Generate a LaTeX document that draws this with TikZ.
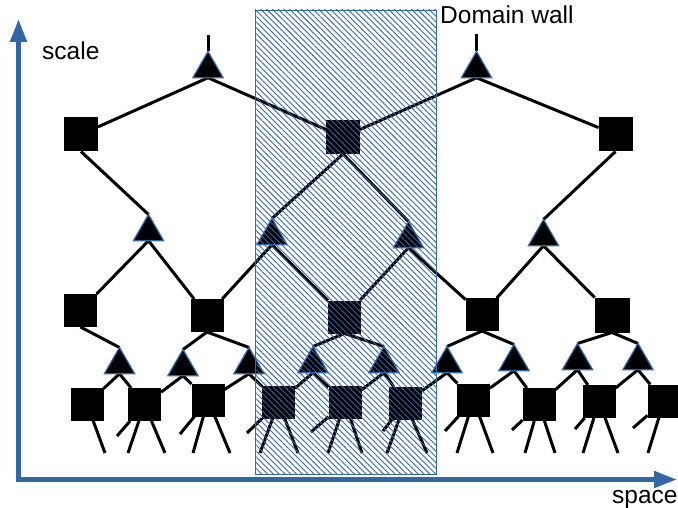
\documentclass[tikz,border=0pt]{standalone}
\usepackage{fontspec}
\setmainfont{Liberation Sans}
\usetikzlibrary{shapes.geometric,arrows.meta,patterns.meta,backgrounds}
\definecolor{axisblue}{HTML}{3465A4}
\begin{document}
\begin{tikzpicture}[x=1pt,y=-1pt,
  sq/.style={fill=black,minimum size=33pt,inner sep=0pt,outer sep=0pt},
  tri/.style={regular polygon,regular polygon sides=3,fill=black,draw=axisblue,line width=1.2pt,minimum size=35pt,inner sep=0pt,outer sep=0pt},
  wire/.style={line width=3pt,black},
  lbl/.style={font=\fontsize{24.5}{29}\selectfont,inner sep=0pt,anchor=base west},
  axis/.style={axisblue,line width=5pt,{Triangle[length=23pt,width=16pt]}-{Triangle[length=23pt,width=16pt]}},
  wall/.style={draw=axisblue,line width=0.8pt,pattern={Lines[angle=-45,distance=4.1pt,line width=0.9pt]},pattern color=axisblue}]
\useasboundingbox (0,0) rectangle (678,508);
% top level
\coordinate (s1) at (208,35);
\coordinate (s2) at (476.5,34);
\node[tri] (T1) at (208,69) {};
\node[tri] (T2) at (476.5,69) {};
\node[sq,minimum size=34pt] (A1) at (81,134.5) {};
\node[sq,minimum size=34pt] (A2) at (343,137) {};
\node[sq,minimum size=34pt] (A3) at (615.5,134.5) {};
% second level
\node[tri] (M1) at (148.5,232) {};
\node[tri] (M2) at (272,236) {};
\node[tri] (M3) at (408.5,239) {};
\node[tri] (M4) at (543.5,237) {};
\node[sq] (C1) at (80.5,310.5) {};
\node[sq] (C2) at (207,315.5) {};
\node[sq] (C3) at (344.5,317) {};
\node[sq] (C4) at (482,314.5) {};
\node[sq,minimum size=35pt] (C5) at (612,315) {};
% third level
\foreach \n/\x/\y in {1/119.5/365,2/183/367,3/249/365,4/313/364,5/384/364,6/447/364,7/514/362,8/577.5/361,9/638/361}
  \node[tri] (U\n) at (\x,\y) {};
\foreach \n/\x/\y in {1/87/404,2/144.5/404.5,3/208/400,4/278.5/402.5,5/345/402.5,6/405/403,7/473.5/400,8/539/404.5,9/599/401.5,10/664/401}
  \node[sq] (B\n) at (\x,\y) {};
\foreach \n/\x/\y in {1/117/436,2/180/434,3/247/433,4/311/432,5/383/431,6/445/431,7/512/430,8/575/429,9/633/428}
  \coordinate (V\n) at (\x,\y);
% leg ends
\foreach \n/\x in {a/105,b/128,c/165,d/193,e/230,f/260,g/298,h/328,i/362,j/387,k/427,l/457,m/493,n/525,o/555,p/583,q/618,r/648}
  \coordinate (L\n) at (\x,453);
\begin{pgfonlayer}{background}
  \draw[wire] (T1.north) -- (s1);
  \draw[wire] (T2.north) -- (s2);
  \draw[wire] (A1) -- (T1.south) -- (A2);
  \draw[wire] (A2) -- (T2.south) -- (A3);
  \draw[wire] (A1.south) -- (M1.north);
  \draw[wire] (M2.north) -- (A2.south) -- (M3.north);
  \draw[wire] (A3.south) -- (M4.north);
  \draw[wire] (C1) -- (M1.south) -- (C2);
  \draw[wire] (C2) -- (M2.south) -- (C3);
  \draw[wire] (C3) -- (M3.south) -- (C4);
  \draw[wire] (C4) -- (M4.south) -- (C5);
  \draw[wire] (C1.south) -- (U1.north);
  \draw[wire] (U2.north) -- (C2.south) -- (U3.north);
  \draw[wire] (U4.north) -- (C3.south) -- (U5.north);
  \draw[wire] (U6.north) -- (C4.south) -- (U7.north);
  \draw[wire] (U8.north) -- (C5.south) -- (U9.north);
  \foreach \i/\j in {1/2,2/3,3/4,4/5,5/6,6/7,7/8,8/9,9/10}
    \draw[wire] (B\i) -- (U\i.south) -- (B\j) -- (V\i) -- cycle;
  \draw[wire] (B1) -- (La);
  \draw[wire] (Lb) -- (B2) -- (Lc);
  \draw[wire] (Ld) -- (B3) -- (Le);
  \draw[wire] (Lf) -- (B4) -- (Lg);
  \draw[wire] (Lh) -- (B5) -- (Li);
  \draw[wire] (Lj) -- (B6) -- (Lk);
  \draw[wire] (Ll) -- (B7) -- (Lm);
  \draw[wire] (Ln) -- (B8) -- (Lo);
  \draw[wire] (Lp) -- (B9) -- (Lq);
  \draw[wire] (B10) -- (Lr);
\end{pgfonlayer}
% domain wall
\coordinate (w1) at (255,10);
\coordinate (w2) at (436,474);
\draw[wall] (w1) rectangle (w2);
% axes
\coordinate (ytip) at (18.5,19);
\coordinate (orig) at (18.5,479.5);
\coordinate (xtip) at (677,479.5);
\draw[axis] (ytip) -- (orig) -- (xtip);
% labels
\node[lbl] (scale) at (42,60) {scale};
\node[lbl] (space) at (612,503) {space};
\node[lbl] (dw) at (440,24) {Domain wall};
\end{tikzpicture}
\end{document}
